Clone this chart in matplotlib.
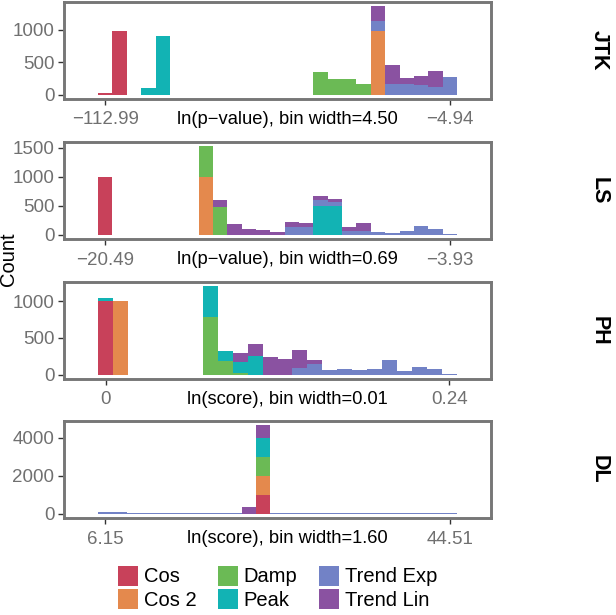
import matplotlib
matplotlib.use("Agg")
import matplotlib.pyplot as plt
import numpy as np
from matplotlib.patches import Patch

plt.rcParams['font.family'] = ['Liberation Sans', 'DejaVu Sans']

# category names + colours (stack order bottom -> top)
categories = ["Cos", "Cos 2", "Damp", "Peak", "Trend Exp", "Trend Lin"]
colors = ["#C8415A", "#E4894D", "#6BBA55", "#12B3B4", "#7282C6", "#8A52A1"]

# ---- JTK, 25 bins ----
jtk_cos = [25, 980, 0, 0, 0, 0, 0, 0, 0, 0, 0, 0, 0, 0, 0, 0, 0, 0, 0, 0, 0, 0, 0, 0, 0]
jtk_cos2 = [0, 0, 0, 0, 0, 0, 0, 0, 0, 0, 0, 0, 0, 0, 0, 0, 0, 0, 0, 980, 0, 0, 0, 0, 0]
jtk_damp = [0, 0, 0, 0, 0, 0, 0, 0, 0, 0, 0, 0, 0, 0, 0, 350, 240, 240, 165, 0, 0, 0, 0, 0, 0]
jtk_peak = [0, 0, 0, 100, 900, 0, 0, 0, 0, 0, 0, 0, 0, 0, 0, 0, 0, 0, 0, 0, 0, 0, 0, 0, 0]
jtk_texp = [0, 0, 0, 0, 0, 0, 0, 0, 0, 0, 0, 0, 0, 0, 0, 0, 0, 0, 0, 150, 170, 160, 150, 115, 265]
jtk_tlin = [0, 0, 0, 0, 0, 0, 0, 0, 0, 0, 0, 0, 0, 0, 0, 0, 0, 0, 0, 225, 290, 90, 130, 245, 0]

# ---- LS, 25 bins ----
ls_cos = [1000, 0, 0, 0, 0, 0, 0, 0, 0, 0, 0, 0, 0, 0, 0, 0, 0, 0, 0, 0, 0, 0, 0, 0, 0]
ls_cos2 = [0, 0, 0, 0, 0, 0, 0, 1000, 0, 0, 0, 0, 0, 0, 0, 0, 0, 0, 0, 0, 0, 0, 0, 0, 0]
ls_damp = [0, 0, 0, 0, 0, 0, 0, 520, 475, 0, 0, 0, 0, 0, 0, 0, 0, 0, 0, 0, 0, 0, 0, 0, 0]
ls_peak = [0, 0, 0, 0, 0, 0, 0, 0, 0, 0, 0, 0, 0, 0, 0, 500, 495, 0, 0, 0, 0, 0, 0, 0, 0]
ls_texp = [0, 0, 0, 0, 0, 0, 0, 0, 0, 0, 0, 0, 0, 130, 125, 100, 60, 57, 57, 50, 30, 57, 150, 90, 15]
ls_tlin = [0, 0, 0, 0, 0, 0, 0, 0, 125, 185, 97, 78, 45, 80, 78, 65, 60, 75, 140, 0, 0, 0, 0, 0, 0]

# ---- PH, 24 bins ----
ph_cos = [1000, 0, 0, 0, 0, 0, 0, 0, 0, 0, 0, 0, 0, 0, 0, 0, 0, 0, 0, 0, 0, 0, 0, 0]
ph_cos2 = [0, 1000, 0, 0, 0, 0, 0, 0, 0, 0, 0, 0, 0, 0, 0, 0, 0, 0, 0, 0, 0, 0, 0, 0]
ph_damp = [0, 0, 0, 0, 0, 0, 0, 785, 180, 15, 0, 0, 0, 0, 0, 0, 0, 0, 0, 0, 0, 0, 0, 0]
ph_peak = [45, 0, 0, 0, 0, 0, 0, 415, 147, 150, 250, 0, 0, 0, 0, 0, 0, 0, 0, 0, 0, 0, 0, 0]
ph_texp = [0, 0, 0, 0, 0, 0, 0, 0, 0, 0, 0, 0, 0, 92, 148, 58, 72, 60, 80, 193, 50, 105, 80, 8]
ph_tlin = [0, 0, 0, 0, 0, 0, 0, 0, 0, 125, 160, 240, 215, 236, 50, 0, 0, 0, 0, 0, 0, 0, 0, 0]

# ---- DL, 25 bins ----
dl_cos = [0, 0, 0, 0, 0, 0, 0, 0, 0, 0, 0, 1000, 0, 0, 0, 0, 0, 0, 0, 0, 0, 0, 0, 0, 0]
dl_cos2 = [0, 0, 0, 0, 0, 0, 0, 0, 0, 0, 0, 1000, 0, 0, 0, 0, 0, 0, 0, 0, 0, 0, 0, 0, 0]
dl_damp = [0, 0, 0, 0, 0, 0, 0, 0, 0, 0, 0, 1000, 0, 0, 0, 0, 0, 0, 0, 0, 0, 0, 0, 0, 0]
dl_peak = [0, 0, 0, 0, 0, 0, 0, 0, 0, 0, 0, 1000, 0, 0, 0, 0, 0, 0, 0, 0, 0, 0, 0, 0, 0]
dl_texp = [80, 90, 40, 40, 40, 40, 40, 40, 40, 40, 0, 0, 15, 15, 15, 15, 15, 15, 15, 15, 15, 15, 15, 15, 50]
dl_tlin = [0, 0, 0, 0, 0, 0, 0, 0, 0, 0, 350, 650, 0, 0, 0, 0, 0, 0, 0, 0, 0, 0, 0, 0, 0]

# panel names, x range (first/last bin centre) and labels
panel_names = ["JTK", "LS", "PH", "DL"]
x_lo = [-112.99, -20.49, 0.0, 6.15]
x_hi = [-4.94, -3.93, 0.24, 44.51]
x_lo_labels = ["\u2212112.99", "\u221220.49", "0", "6.15"]
x_hi_labels = ["\u22124.94", "\u22123.93", "0.24", "44.51"]
x_titles = ["ln(p\u2212value), bin width=4.50", "ln(p\u2212value), bin width=0.69",
            "ln(score), bin width=0.01", "ln(score), bin width=1.60"]
y_ticks = [[0, 500, 1000], [0, 500, 1000, 1500], [0, 500, 1000], [0, 2000, 4000]]

panel_data = [
    [jtk_cos, jtk_cos2, jtk_damp, jtk_peak, jtk_texp, jtk_tlin],
    [ls_cos, ls_cos2, ls_damp, ls_peak, ls_texp, ls_tlin],
    [ph_cos, ph_cos2, ph_damp, ph_peak, ph_texp, ph_tlin],
    [dl_cos, dl_cos2, dl_damp, dl_peak, dl_texp, dl_tlin],
]

W, H = 616, 615
fig = plt.figure(figsize=(W / 100, H / 100), dpi=100)

tops = [2, 142, 282, 421]  # px from top
ph = 97
for k in range(4):
    ax = fig.add_axes([64 / W, 1 - (tops[k] + ph) / H, 427 / W, ph / H])
    series = [np.array(s, dtype=float) for s in panel_data[k]]
    n = len(series[0])
    centers = np.linspace(x_lo[k], x_hi[k], n)
    w = (x_hi[k] - x_lo[k]) / (n - 1)
    bottom = np.zeros(n)
    for vals, col in zip(series, colors):
        ax.bar(centers, vals, width=w, bottom=bottom, color=col, linewidth=0)
        bottom = bottom + vals

    span = n * w
    left_edge = centers[0] - w / 2
    ax.set_xlim(left_edge - 0.095 * span, left_edge + span * 1.095)
    top = bottom.max()
    ax.set_ylim(-0.05 * top, 1.05 * top)

    ax.set_xticks([x_lo[k], x_hi[k]])
    ax.set_xticklabels([x_lo_labels[k], x_hi_labels[k]])
    ax.set_yticks(y_ticks[k])
    ax.tick_params(direction='out', length=4, width=1.0, colors='#333333',
                   labelcolor='#707070', labelsize=13.5)
    ax.tick_params(axis='x', pad=5)
    ax.tick_params(axis='y', pad=3)
    for sp in ax.spines.values():
        sp.set_color('#777777')
        sp.set_linewidth(2.1)

    ax.text(0.523, -0.12, x_titles[k], transform=ax.transAxes, ha='center',
            va='top', fontsize=13.2, color='black')
    fig.text(599 / W, 1 - (tops[k] + ph / 2) / H, panel_names[k], rotation=-90,
             ha='center', va='center', fontsize=15.5, fontweight='bold')

fig.text(9 / W, 1 - 259.5 / H, "Count", rotation=90, ha='center', va='center', fontsize=14.5)

handles = [Patch(facecolor=c, edgecolor='none') for c in colors]
fig.legend(handles, categories, ncol=3, loc='center', bbox_to_anchor=(0.4505, 0.044),
           frameon=False, fontsize=14.5, handlelength=1.0, handleheight=1.15,
           handletextpad=0.3, columnspacing=1.05, labelspacing=0.15, borderpad=0)

fig.savefig("out.png", dpi=100)
